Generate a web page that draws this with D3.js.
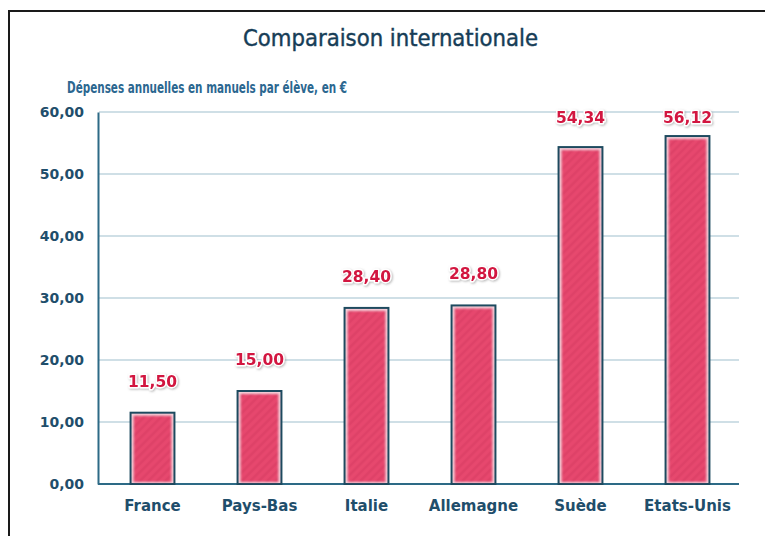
<!DOCTYPE html>
<html><head><meta charset="utf-8">
<script src="https://cdn.jsdelivr.net/npm/d3@7"></script>
<style>
html,body{margin:0;padding:0;background:#fff;}
svg{display:block;}
</style></head>
<body>
<script>
const categories = ["France","Pays-Bas","Italie","Allemagne","Suède","Etats-Unis"];
const values = [11.50, 15.00, 28.40, 28.80, 54.34, 56.12];
const yTicks = [0,10,20,30,40,50,60];
const title = "Comparaison internationale";
const subtitle = "Dépenses annuelles en manuels par élève, en €";

const W = 765, H = 536;
const svg = d3.select("body").append("svg").attr("width",W).attr("height",H);
const fmt = v => d3.format(".2f")(v).replace(".", ",");

const defs = svg.append("defs");
const pat = defs.append("pattern").attr("id","stripes").attr("patternUnits","userSpaceOnUse")
  .attr("width",6).attr("height",6).attr("patternTransform","rotate(45)");
pat.append("rect").attr("width",6).attr("height",6).attr("fill","#e8496f");
pat.append("rect").attr("width",2).attr("height",6).attr("fill","#d83d63");
const sh = defs.append("filter").attr("id","tshadow").attr("x","-20%").attr("y","-40%").attr("width","140%").attr("height","180%");
sh.append("feDropShadow").attr("dx",1).attr("dy",1).attr("stdDeviation",1).attr("flood-color","#888").attr("flood-opacity",0.6);
const blur = defs.append("filter").attr("id","soft");
blur.append("feGaussianBlur").attr("stdDeviation",0.8);

// frame
svg.append("path").attr("d","M9,536 V11 H765").attr("fill","none").attr("stroke","#1a1a1a").attr("stroke-width",2);

svg.append("text").attr("x",243).attr("y",46)
  .attr("font-family","'Liberation Sans Narrow','DejaVu Sans Condensed','DejaVu Sans',sans-serif")
  .attr("font-size",23).attr("fill","#163d57").attr("stroke","#163d57").attr("stroke-width",0.4)
  .attr("textLength",295).attr("lengthAdjust","spacingAndGlyphs").text(title);
svg.append("text").attr("x",67).attr("y",93)
  .attr("font-family","'Liberation Sans Narrow','DejaVu Sans Condensed','DejaVu Sans',sans-serif")
  .attr("font-weight","bold").attr("font-size",16).attr("fill","#2b6790")
  .attr("textLength",280).attr("lengthAdjust","spacingAndGlyphs").text(subtitle);

const x = d3.scaleBand().domain(categories).range([99,741]).paddingInner(0.59).paddingOuter(0.295);
const y = d3.scaleLinear().domain([0,60]).range([484,112]);

// grid
svg.append("g").selectAll("line").data(yTicks.filter(d=>d>0)).join("line")
  .attr("x1",99).attr("x2",739).attr("y1",d=>y(d)).attr("y2",d=>y(d))
  .attr("stroke","#cfdfe6").attr("stroke-width",2);

// y axis
const ya = svg.append("g").attr("transform","translate(98,0)")
  .call(d3.axisLeft(y).tickValues(yTicks).tickFormat(fmt).tickSize(0).tickPadding(14));
ya.select(".domain").attr("stroke","#2d6a86").attr("stroke-width",2);
ya.selectAll("text").attr("font-family","'DejaVu Sans',sans-serif").attr("font-weight","bold")
  .attr("font-size",14).attr("fill","#1f4e6b");

// x axis
const xa = svg.append("g").attr("transform","translate(0,484)")
  .call(d3.axisBottom(x).tickSize(0).tickPadding(16));
xa.select(".domain").attr("d","M98,0H739").attr("stroke","#2d6a86").attr("stroke-width",2);
xa.selectAll("text").attr("font-family","'DejaVu Sans',sans-serif").attr("font-weight","bold")
  .attr("font-size",15).attr("fill","#1f4e6b");

// bars
const bars = svg.append("g").selectAll("g").data(values).join("g");
bars.append("rect")
  .attr("x",(d,i)=>x(categories[i])).attr("width",x.bandwidth())
  .attr("y",d=>y(d)).attr("height",d=>y(0)-y(d))
  .attr("fill","#f4d4dc").attr("stroke","#1d4a5f").attr("stroke-width",2);
bars.append("rect")
  .attr("x",(d,i)=>x(categories[i])+3).attr("width",x.bandwidth()-6)
  .attr("y",d=>y(d)+3).attr("height",d=>y(0)-y(d)-5)
  .attr("fill","url(#stripes)").attr("filter","url(#soft)");

// value labels
svg.append("g").selectAll("text").data(values).join("text")
  .attr("x",(d,i)=>x(categories[i])+x.bandwidth()/2)
  .attr("y",d=>Math.max(y(d)-31, y(60)+6)+5)
  .attr("text-anchor","middle")
  .attr("font-family","'DejaVu Sans',sans-serif").attr("font-weight","bold").attr("font-size",15.5)
  .attr("fill","#d2163f").attr("stroke","#fff").attr("stroke-width",3).attr("paint-order","stroke")
  .attr("stroke-linejoin","round").attr("filter","url(#tshadow)")
  .text(d=>fmt(d));
</script>
</body></html>
